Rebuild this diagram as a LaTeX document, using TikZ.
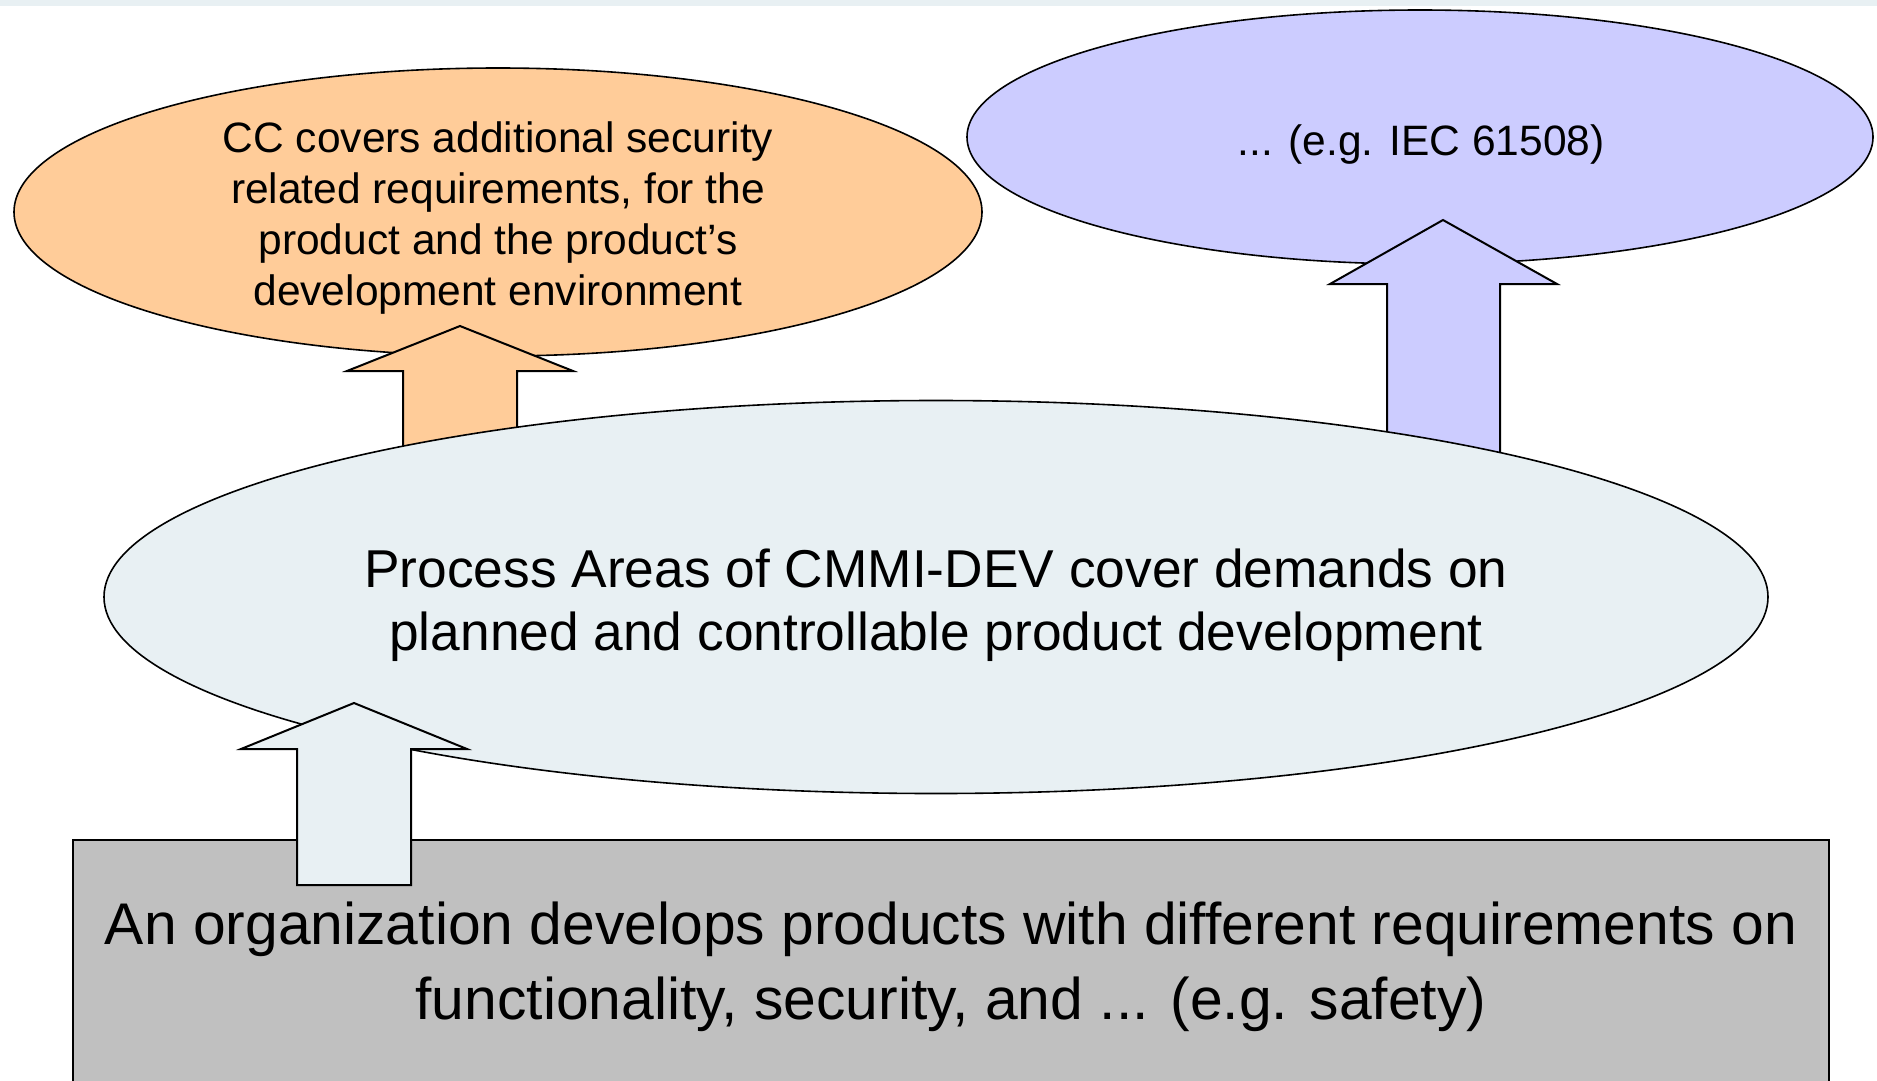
\documentclass[tikz,border=0pt]{standalone}
\usepackage{fontspec}
\setmainfont{Liberation Sans}
\usetikzlibrary{shapes.geometric}
\definecolor{cOrange}{HTML}{FFCC99}
\definecolor{cPurple}{HTML}{CCCCFF}
\definecolor{cLight}{HTML}{E8F0F3}
\definecolor{cGray}{HTML}{C0C0C0}
\tikzset{
  oval/.style={ellipse, draw=black, line width=1.6pt, inner sep=0pt},
  basebox/.style={rectangle, draw=black, line width=1.6pt, fill=cGray, inner sep=0pt},
  label text/.style={inner sep=0pt, align=center},
  blockarrow/.style={draw=black, line width=2pt, line join=miter},
}
\begin{document}
\begin{tikzpicture}[x=1pt, y=-1pt]
\useasboundingbox (0,0) rectangle (1877,1080);
\clip (0,0) rectangle (1877,1080);
% top strip
\fill[cLight] (0,0) rectangle (1877,6);
% top ellipses
\node[oval, fill=cOrange, minimum width=968pt, minimum height=288pt] (cc) at (498,212) {};
\node[label text, font=\fontsize{42.5}{51}\selectfont] (cctext) at (498,218)
  {CC covers additional security\\related requirements, for the\\product and the product’s\\development environment};
\node[oval, fill=cPurple, minimum width=906pt, minimum height=254pt] (iec) at (1420,137) {};
\node[label text, font=\fontsize{42.5}{51}\selectfont] (iectext) at (1421,145)
  {... (e.g. IEC 61508)};
% arrows to top ellipses
\path[blockarrow, fill=cOrange] (403,520) -- (403,371) -- (347,371) -- (460,326) -- (573,371) -- (517,371) -- (517,520) -- cycle;
\path[blockarrow, fill=cPurple] (1387,520) -- (1387,284) -- (1330,284) -- (1443,220) -- (1557,284) -- (1500,284) -- (1500,520) -- cycle;
% central ellipse
\node[oval, fill=cLight, minimum width=1664pt, minimum height=393pt] (cmmi) at (936,597) {};
\node[label text, font=\fontsize{53.3}{63}\selectfont] (cmmitext) at (936,605)
  {Process Areas of CMMI-DEV cover demands on\\planned and controllable product development};
% base rectangle
\node[basebox, minimum width=1756pt, minimum height=260pt] (org) at (951,970) {};
\node[label text, font=\fontsize{58.8}{75}\selectfont] (orgtext) at (951,967)
  {An organization develops products with different requirements on\\functionality, security, and ... (e.g. safety)};
% arrow from base to central ellipse
\path[blockarrow, fill=cLight] (297,885) -- (297,749) -- (241,749) -- (354,703) -- (467,749) -- (411,749) -- (411,885) -- cycle;
\end{tikzpicture}
\end{document}
